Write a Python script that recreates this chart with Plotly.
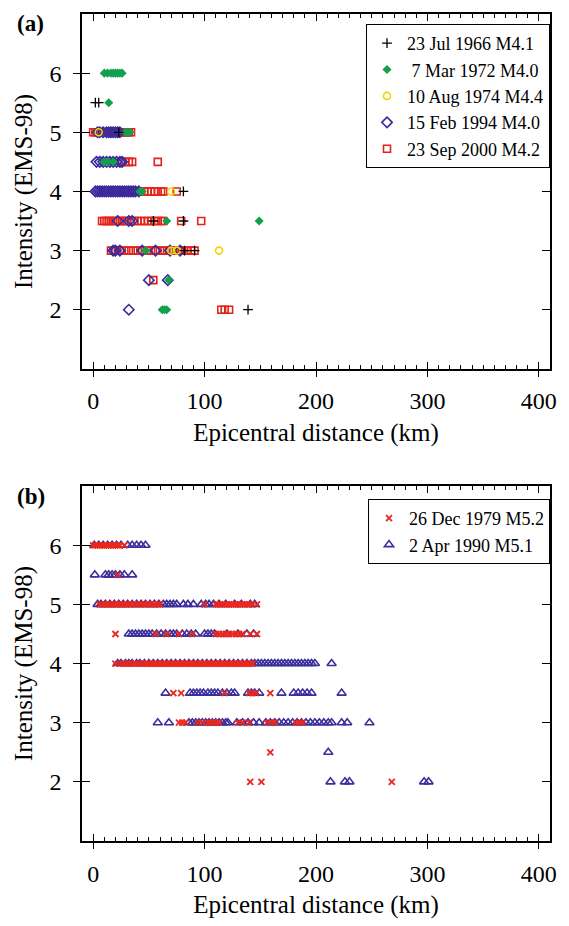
import plotly.graph_objects as go

# ---------------- Panel (a) data: intensity -> epicentral distances (km) ----------------
jul1966 = {5.5: [2, 5], 5.0: [23], 4.0: [81], 3.5: [54, 81], 3.0: [82, 91], 2.0: [139]}
mar1972 = {6.0: [10, 13, 16, 18, 20, 22, 24, 26], 5.5: [14], 5.0: [29, 31, 33],
           4.5: [10, 13, 18], 4.0: [42, 44], 3.5: [66, 149], 3.0: [47], 2.5: [68],
           2.0: [62, 64, 66]}
aug1974 = {5.0: [5], 4.0: [70], 3.0: [70, 75, 113]}
feb1994 = {5.0: [4, 6, 9, 12, 14, 16, 18, 20, 22, 24],
           4.5: [3, 6, 9, 12, 15, 18, 21, 24, 26],
           4.0: [2, 4, 6, 8, 10, 12, 14, 16, 18, 20, 22, 24, 26, 28, 30, 32, 34, 36, 38, 41],
           3.5: [22, 32, 35], 3.0: [18, 20, 24, 44, 56, 69, 78], 2.5: [50, 67], 2.0: [32]}
sep2000 = {5.0: [0, 2, 4, 6, 8, 10, 12, 14, 16, 18, 20, 22, 24, 26, 28, 30, 32, 34],
           4.5: [26, 29, 32, 35, 58],
           4.0: [28, 31, 34, 37, 40, 43, 46, 49, 52, 55, 58, 61, 63, 75],
           3.5: [8, 10, 12, 14, 16, 18, 20, 24, 26, 28, 30, 34, 37, 40, 43, 46, 49, 52, 55,
                 58, 61, 63, 79, 97],
           3.0: [16, 20, 24, 28, 32, 36, 40, 44, 48, 52, 56, 60, 64, 68, 72, 76, 80, 84, 88, 91],
           2.5: [54], 2.0: [115, 118, 122]}

# ---------------- Panel (b) data ----------------
dec1979 = {6.0: [0, 2, 4, 6, 8, 10, 12, 14, 16, 18, 20, 22, 24, 28],
           5.5: [22],
           5.0: [6, 8, 10, 12, 14, 16, 18, 20, 22, 24, 26, 28, 30, 32, 34, 37, 40, 43, 46, 49,
                 52, 55, 58, 60, 100, 110, 112, 114, 116, 118, 120, 122, 124, 126, 128, 130,
                 132, 134, 136, 138, 140, 143, 147],
           4.5: [20, 56, 66, 77, 89, 110, 113, 116, 119, 122, 125, 128, 131, 134, 141, 147],
           4.0: [20, 24, 27, 30, 33, 36, 38, 41, 44, 47, 49, 51, 53, 55, 57, 59, 61, 63, 65, 67,
                 69, 71, 73, 75, 77, 79, 81, 83, 85, 87, 89, 91, 93, 95, 97, 99, 101, 103, 105,
                 107, 109, 111, 113, 115, 117, 119, 121, 123, 125, 127, 129, 131, 133, 135, 137,
                 139, 141, 143],
           3.5: [72, 79, 118, 140, 143, 146, 159],
           3.0: [77, 80, 83, 94, 98, 103, 105, 108, 110, 113, 130, 134, 140, 156, 160, 163,
                 182, 185, 188],
           2.5: [159],
           2.0: [141, 151, 268]}
apr1990 = {6.0: [1, 5, 9, 13, 17, 21, 25, 31, 35, 39, 43, 47],
           5.5: [1.5, 11, 14, 17, 20, 24, 28, 35],
           5.0: [4, 7, 11, 15, 19, 23, 27, 31, 35, 39, 43, 47, 51, 55, 59, 63, 66, 69, 72, 75,
                 81, 85, 90, 97, 101, 104, 108, 113, 119, 127, 133, 141, 145],
           4.5: [32, 35, 38, 41, 44, 47, 50, 53, 57, 61, 65, 69, 72, 75, 80, 84, 88, 92, 100,
                 103, 106, 109, 120, 130, 138, 144],
           4.0: [22, 25, 29, 32, 35, 39, 42, 46, 50, 54, 58, 62, 66, 70, 74, 78, 82, 86, 90, 94,
                 98, 102, 106, 110, 114, 118, 122, 126, 130, 134, 138, 142, 145, 148, 151, 154,
                 157, 160, 163, 166, 169, 172, 175, 178, 181, 184, 187, 190, 193, 196, 199, 214],
           3.5: [65, 87, 90, 93, 96, 99, 103, 106, 109, 112, 116, 120, 124, 127, 139, 142, 145,
                 149, 169, 180, 184, 188, 192, 196, 223],
           3.0: [58, 68, 86, 89, 92, 95, 98, 101, 104, 107, 110, 113, 116, 119, 121, 129, 134,
                 139, 144, 149, 155, 159, 163, 167, 171, 175, 179, 183, 187, 191, 195, 199, 203,
                 207, 211, 214, 223, 228, 248],
           2.5: [211],
           2.0: [213, 226, 230, 297, 301]}

y_ticks = [2, 3, 4, 5, 6]


def flat(d):
    xs, ys = [], []
    for inten, dists in d.items():
        for v in dists:
            xs.append(v)
            ys.append(inten)
    return xs, ys


FONT = "Liberation Serif, Times New Roman, serif"
fig = go.Figure()

series_a = [
    ("23 Sep 2000 M4.2", sep2000, "square-open", "#e2231a", 7, 1.6, 5),
    ("15 Feb 1994 M4.0", feb1994, "diamond-open", "#3b2a9c", 8, 1.6, 4),
    (" 7 Mar 1972 M4.0", mar1972, "diamond", "#12a04c", 7, 0, 2),
    ("10 Aug 1974 M4.4", aug1974, "circle-open", "#f2d400", 7, 1.6, 3),
    ("23 Jul 1966 M4.1", jul1966, "cross-thin", "#000000", 7, 1.3, 1),
]
for name, d, sym, col, size, lw, rank in series_a:
    xs, ys = flat(d)
    marker = dict(symbol=sym, size=size, color=col, line=dict(color=col, width=lw))
    fig.add_trace(go.Scatter(x=xs, y=ys, mode="markers", name=name, marker=marker,
                             xaxis="x", yaxis="y", legend="legend", legendrank=rank))

series_b = [
    ("2 Apr 1990 M5.1", apr1990, "triangle-up-open", "#3b2e9c", 8, 1.6, 2),
    ("26 Dec 1979 M5.2", dec1979, "x-thin", "#e8281e", 6, 1.8, 1),
]
for name, d, sym, col, size, lw, rank in series_b:
    xs, ys = flat(d)
    marker = dict(symbol=sym, size=size, color=col, line=dict(color=col, width=lw))
    fig.add_trace(go.Scatter(x=xs, y=ys, mode="markers", name=name, marker=marker,
                             xaxis="x2", yaxis="y2", legend="legend2", legendrank=rank))

# empty traces so the overlay axes (outer half of the major ticks) are drawn
for xa, ya in (("x3", "y3"), ("x4", "y4")):
    fig.add_trace(go.Scatter(x=[None], y=[None], mode="markers", xaxis=xa, yaxis=ya,
                             showlegend=False, hoverinfo="skip"))

XR = [-10, 410]
YR = [1, 7]
tickfont = dict(family=FONT, size=24, color="black")
titlefont = dict(family=FONT, size=25, color="black")

base_x = dict(range=XR, tickmode="linear", tick0=0, dtick=100, ticks="inside", ticklen=7,
              tickwidth=1.4, tickcolor="black", showline=True, linecolor="black",
              linewidth=1.5, mirror="allticks", showgrid=False, zeroline=False,
              tickfont=tickfont, ticklabelstandoff=10,
              minor=dict(dtick=10, tick0=0, ticks="inside", ticklen=4, tickwidth=1.2,
                         tickcolor="black", showgrid=False),
              title=dict(text="Epicentral distance (km)", font=titlefont, standoff=10))
base_y = dict(range=YR, tickvals=y_ticks, ticks="inside", ticklen=8, tickwidth=1.4,
              tickcolor="black", showline=True, linecolor="black", linewidth=1.5,
              mirror="allticks", showgrid=False, zeroline=False, tickfont=tickfont,
              ticklabelstandoff=14,
              title=dict(text="Intensity (EMS-98)", font=titlefont, standoff=10))
over_x = dict(range=XR, tickmode="linear", tick0=0, dtick=100, ticks="outside", ticklen=7,
              tickwidth=1.4, tickcolor="black", showticklabels=False, showline=False,
              showgrid=False, zeroline=False)
over_y = dict(range=YR, tickvals=y_ticks, ticks="outside", ticklen=8, tickwidth=1.4,
              tickcolor="black", showticklabels=False, showline=False, showgrid=False,
              zeroline=False)

DA = [0.5709, 1.0]
DB = [0.0, 0.4291]

legend_common = dict(xanchor="right", x=1.0, yanchor="top", bgcolor="white",
                     bordercolor="black", borderwidth=1,
                     font=dict(family=FONT, size=18, color="black"))

fig.update_layout(
    width=569, height=926,
    margin=dict(l=82, r=12, t=12, b=82),
    paper_bgcolor="white", plot_bgcolor="white",
    font=dict(family=FONT, color="black"),
    xaxis=dict(base_x, domain=[0, 1], anchor="y"),
    yaxis=dict(base_y, domain=DA, anchor="x"),
    xaxis2=dict(base_x, domain=[0, 1], anchor="y2"),
    yaxis2=dict(base_y, domain=DB, anchor="x2"),
    xaxis3=dict(over_x, overlaying="x", anchor="y3", side="bottom"),
    yaxis3=dict(over_y, overlaying="y", anchor="x3", side="left"),
    xaxis4=dict(over_x, overlaying="x2", anchor="y4", side="bottom"),
    yaxis4=dict(over_y, overlaying="y2", anchor="x4", side="left"),
    legend=dict(legend_common, y=0.988),
    legend2=dict(legend_common, y=0.4135),
    showlegend=True,
    annotations=[
        dict(text="<b>(a)</b>", x=-0.109, y=0.988, xref="paper", yref="paper",
             xanchor="center", yanchor="middle", showarrow=False,
             font=dict(family=FONT, size=23, color="black")),
        dict(text="<b>(b)</b>", x=-0.109, y=0.417, xref="paper", yref="paper",
             xanchor="center", yanchor="middle", showarrow=False,
             font=dict(family=FONT, size=23, color="black")),
    ],
)

fig.write_html("out.html")
